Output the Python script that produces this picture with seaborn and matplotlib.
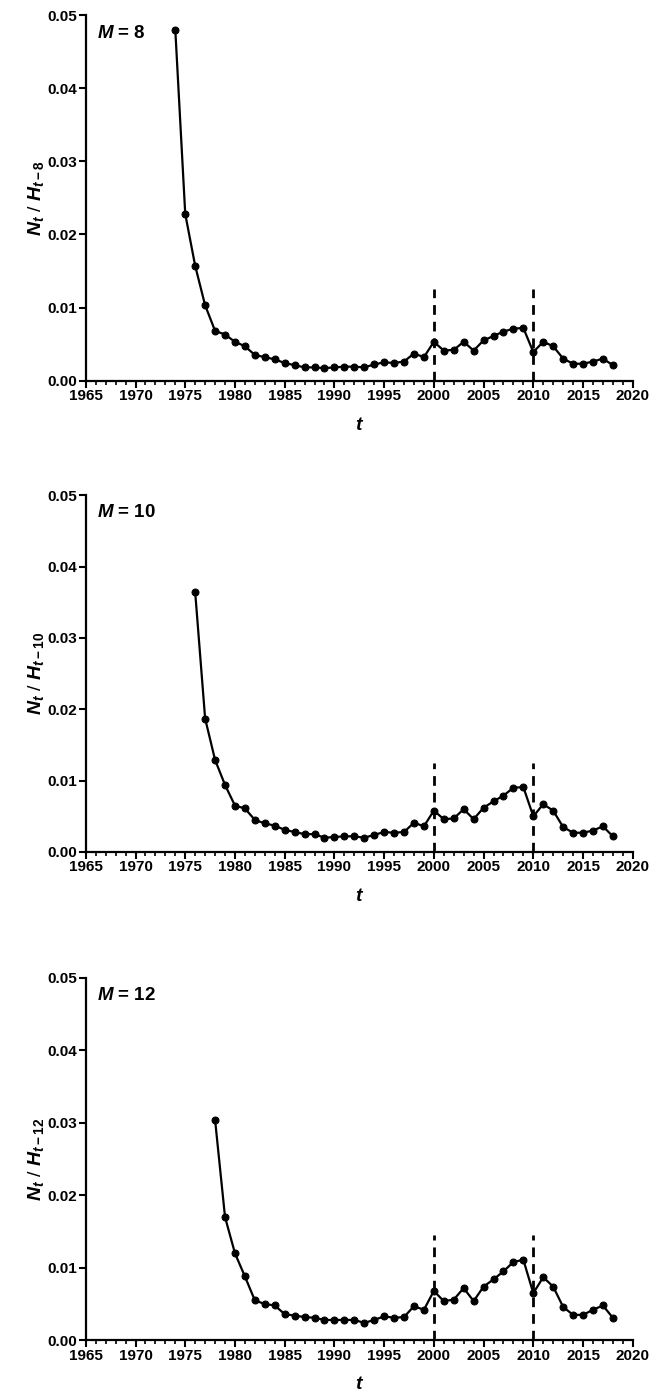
import numpy as np
import pandas as pd
import matplotlib
matplotlib.use("Agg")
import matplotlib.pyplot as plt
import seaborn as sns
from matplotlib.ticker import MultipleLocator, FormatStrFormatter

# --- DATA ---
years_m8 = list(range(1974, 2019))
ratio_m8 = [0.0480, 0.0228, 0.0157, 0.0103, 0.0068, 0.0063, 0.0053, 0.0047, 0.0035, 0.0032,
            0.0029, 0.0024, 0.0021, 0.0018, 0.0018, 0.0017, 0.0018, 0.0019, 0.0019, 0.0018,
            0.0022, 0.0025, 0.0024, 0.0026, 0.0037, 0.0032, 0.0053, 0.0041, 0.0042, 0.0053,
            0.0041, 0.0055, 0.0061, 0.0067, 0.0071, 0.0072, 0.0039, 0.0053, 0.0047, 0.0030,
            0.0023, 0.0023, 0.0026, 0.0030, 0.0021]

years_m10 = list(range(1976, 2019))
ratio_m10 = [0.0364, 0.0187, 0.0129, 0.0094, 0.0065, 0.0061, 0.0045, 0.0040, 0.0037, 0.0031,
             0.0028, 0.0025, 0.0025, 0.0020, 0.0021, 0.0022, 0.0022, 0.0020, 0.0024, 0.0028,
             0.0027, 0.0028, 0.0041, 0.0036, 0.0058, 0.0046, 0.0047, 0.0060, 0.0046, 0.0062,
             0.0071, 0.0079, 0.0090, 0.0091, 0.0050, 0.0067, 0.0058, 0.0035, 0.0027, 0.0027,
             0.0030, 0.0036, 0.0022]

years_m12 = list(range(1978, 2019))
ratio_m12 = [0.0304, 0.0170, 0.0120, 0.0088, 0.0055, 0.0050, 0.0048, 0.0036, 0.0034, 0.0032,
             0.0031, 0.0028, 0.0028, 0.0028, 0.0028, 0.0024, 0.0028, 0.0033, 0.0031, 0.0032,
             0.0047, 0.0042, 0.0068, 0.0054, 0.0056, 0.0072, 0.0054, 0.0074, 0.0084, 0.0095,
             0.0108, 0.0111, 0.0065, 0.0087, 0.0074, 0.0046, 0.0035, 0.0035, 0.0042, 0.0048,
             0.0031]

lags = [8, 10, 12]
break_years = [2000, 2010]
break_tops = [0.0125, 0.0125, 0.0145]

# --- STYLE ---
sns.set_style("ticks")
plt.rcParams['font.family'] = ['Liberation Sans', 'DejaVu Sans']
plt.rcParams['font.weight'] = 'bold'
plt.rcParams['mathtext.fontset'] = 'custom'
plt.rcParams['mathtext.rm'] = 'Liberation Sans:bold'
plt.rcParams['mathtext.it'] = 'Liberation Sans:italic:bold'
plt.rcParams['mathtext.bf'] = 'Liberation Sans:bold'
for key in ['text.color', 'axes.labelcolor', 'xtick.color', 'ytick.color', 'axes.edgecolor']:
    plt.rcParams[key] = 'black'

fig = plt.figure(figsize=(6.55, 13.99), dpi=100)

# axes boxes [left, bottom, width, height] in figure fractions
boxes = [[0.131, 0.728, 0.835, 0.261],
         [0.131, 0.391, 0.835, 0.255],
         [0.131, 0.042, 0.835, 0.259]]

series = [(years_m8, ratio_m8), (years_m10, ratio_m10), (years_m12, ratio_m12)]

for box, (yrs, vals), m, top in zip(boxes, series, lags, break_tops):
    ax = fig.add_axes(box)
    df = pd.DataFrame({"t": yrs, "ratio": vals})

    for by in break_years:
        ax.plot([by, by], [0, top], color="black", lw=2, ls=(0, (3.5, 2.5)), zorder=1)

    sns.lineplot(data=df, x="t", y="ratio", ax=ax, color="black", lw=1.6,
                 marker="o", markersize=5, markeredgecolor="black", zorder=3)

    ax.set_xlim(1965, 2020)
    ax.set_ylim(0, 0.05)
    ax.xaxis.set_major_locator(MultipleLocator(5))
    ax.xaxis.set_minor_locator(MultipleLocator(1))
    ax.yaxis.set_major_locator(MultipleLocator(0.01))
    ax.yaxis.set_major_formatter(FormatStrFormatter("%.2f"))
    ax.tick_params(axis="both", which="major", length=5, width=1.5, labelsize=11, pad=1)
    ax.tick_params(axis="x", which="minor", length=3, width=1.2)
    for lab in ax.get_xticklabels() + ax.get_yticklabels():
        lab.set_fontweight("bold")

    sns.despine(ax=ax)
    for sp in ["left", "bottom"]:
        ax.spines[sp].set_linewidth(1.6)

    ax.set_xlabel("$t$", fontsize=14, labelpad=10)
    ax.set_ylabel(r"$N_t$ / $H_{t-%d}$" % m, fontsize=14, labelpad=1)
    ax.text(0.02, 0.975, r"$M$ = %d" % m, transform=ax.transAxes, fontsize=13.5,
            fontweight="bold", va="top", ha="left")

plt.savefig("out.png", dpi=100)
